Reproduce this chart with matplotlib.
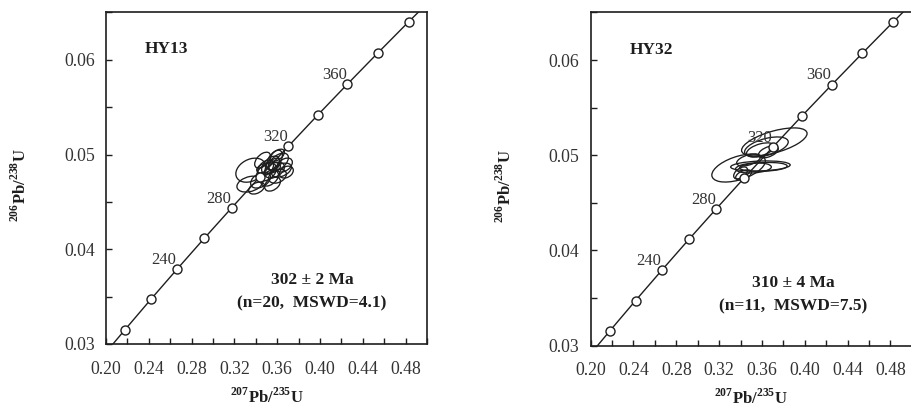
import numpy as np
import matplotlib
matplotlib.use("Agg")
import matplotlib.pyplot as plt
from matplotlib.patches import Ellipse
from matplotlib.ticker import MultipleLocator, FormatStrFormatter

plt.rcParams['font.family'] = ['Liberation Serif', 'DejaVu Serif']
plt.rcParams['mathtext.fontset'] = 'custom'
plt.rcParams['mathtext.rm'] = 'Liberation Serif'
plt.rcParams['mathtext.bf'] = 'Liberation Serif:bold'

# ---- concordia curve (207Pb/235U, 206Pb/238U) with age markers every 20 Ma ----
curve_x = [0.2058, 0.2177, 0.2419, 0.2666, 0.2918, 0.3175, 0.3437, 0.3705,
           0.3977, 0.4255, 0.4539, 0.4828, 0.4975]
curve_y = [0.02991, 0.03151, 0.03472, 0.03793, 0.04116, 0.04439, 0.04764, 0.05089,
           0.05416, 0.05743, 0.06072, 0.06402, 0.06567]
marker_ages = [200, 220, 240, 260, 280, 300, 320, 340, 360, 380, 400]
marker_x = [0.2177, 0.2419, 0.2666, 0.2918, 0.3175, 0.3437, 0.3705, 0.3977, 0.4255, 0.4539, 0.4828]
marker_y = [0.03151, 0.03472, 0.03793, 0.04116, 0.04439, 0.04764, 0.05089, 0.05416, 0.05743, 0.06072, 0.06402]
labeled_ages = [240, 280, 320, 360]

# ---- HY13 analyses: centre, half-extent x, half-extent y, correlation ----
hy13_x = [0.3352, 0.3343, 0.3444, 0.3500, 0.3537, 0.3574, 0.3611, 0.3639, 0.3528, 0.3574,
          0.3491, 0.3602, 0.3667, 0.3556, 0.3463, 0.3602, 0.3407, 0.3685, 0.3519, 0.3574]
hy13_y = [0.04835, 0.04688, 0.04730, 0.04815, 0.04889, 0.04836, 0.04920, 0.04836, 0.04751, 0.04941,
          0.04857, 0.04772, 0.04889, 0.04688, 0.04941, 0.04994, 0.04646, 0.04815, 0.04857, 0.04899]
hy13_sx = [0.0139, 0.0120, 0.0093, 0.0093, 0.0083, 0.0093, 0.0093, 0.0093, 0.0083, 0.0074,
           0.0074, 0.0083, 0.0074, 0.0074, 0.0074, 0.0065, 0.0074, 0.0065, 0.0111, 0.0056]
hy13_sy = [0.00127, 0.00084, 0.00084, 0.00095, 0.00095, 0.00084, 0.00095, 0.00074, 0.00084, 0.00105,
           0.00084, 0.00074, 0.00074, 0.00074, 0.00084, 0.00063, 0.00063, 0.00063, 0.00063, 0.00063]
hy13_rho = [0.3, 0.3, 0.4, 0.4, 0.5, 0.4, 0.5, 0.4, 0.4, 0.5,
            0.4, 0.3, 0.4, 0.4, 0.5, 0.5, 0.4, 0.3, 0.3, 0.4]

# ---- HY32 analyses ----
hy32_x = [0.3716, 0.3642, 0.3586, 0.3660, 0.3382, 0.3586, 0.3614, 0.3521, 0.3401, 0.3475, 0.3429]
hy32_y = [0.05140, 0.05087, 0.05056, 0.05035, 0.04865, 0.04887, 0.04877, 0.04866, 0.04814, 0.04950, 0.04793]
hy32_sx = [0.0306, 0.0204, 0.0130, 0.0093, 0.0250, 0.0278, 0.0222, 0.0167, 0.0065, 0.0111, 0.0074]
hy32_sy = [0.00147, 0.00105, 0.00074, 0.00063, 0.00147, 0.00053, 0.00047, 0.00053, 0.00063, 0.00063, 0.00053]
hy32_rho = [0.6, 0.5, 0.5, 0.5, 0.5, 0.2, 0.2, 0.2, 0.5, 0.5, 0.5]

panels = [
    dict(name='HY13', age='302 \u00b1 2 Ma', stats='(n=20,  MSWD=4.1)',
         ex=hy13_x, ey=hy13_y, sx=hy13_sx, sy=hy13_sy, rho=hy13_rho,
         rect=[0.1164, 0.1548, 0.3524, 0.8145], txt=(0.3926, 0.03675, 0.03432)),
    dict(name='HY32', age='310 \u00b1 4 Ma', stats='(n=11,  MSWD=7.5)',
         ex=hy32_x, ey=hy32_y, sx=hy32_sx, sy=hy32_sy, rho=hy32_rho,
         rect=[0.6484, 0.1511, 0.3524, 0.8182], txt=(0.3892, 0.03656, 0.03414)),
]

ink = '#1e1e1e'
fig = plt.figure(figsize=(9.11, 4.07), dpi=100)

for p in panels:
    ax = fig.add_axes(p['rect'])
    ax.set_xlim(0.20, 0.50)
    ax.set_ylim(0.03, 0.065)
    # concordia
    ax.plot(curve_x, curve_y, color=ink, lw=1.0, zorder=2)
    ax.plot(marker_x, marker_y, 'o', ms=6.5, mfc='white', mec=ink, mew=1.0, zorder=4)
    for a, mx, my in zip(marker_ages, marker_x, marker_y):
        if a in labeled_ages:
            ax.annotate(str(a), (mx, my), xytext=(-9.5, 6.5), textcoords='offset points',
                        ha='center', va='center', fontsize=12, color='#333333', zorder=5)
    # error ellipses
    for x, y, sx, sy, r in zip(p['ex'], p['ey'], p['sx'], p['sy'], p['rho']):
        cov = np.array([[sx * sx, r * sx * sy], [r * sx * sy, sy * sy]])
        vals, vecs = np.linalg.eigh(cov)
        ang = np.degrees(np.arctan2(vecs[1, 1], vecs[0, 1]))
        e = Ellipse((x, y), 2 * np.sqrt(vals[1]), 2 * np.sqrt(vals[0]), angle=ang,
                    fill=False, edgecolor=ink, lw=0.95, zorder=3)
        ax.add_patch(e)
    # text
    ax.text(0.2364, 0.0611, p['name'], fontsize=12.5, fontweight='bold', color=ink,
            ha='left', va='center')
    tx, ty1, ty2 = p['txt']
    ax.text(tx, ty1, p['age'], fontsize=12.5, fontweight='bold', color=ink, ha='center', va='center')
    ax.text(tx, ty2, p['stats'], fontsize=12.5, fontweight='bold', color=ink, ha='center', va='center')
    # ticks
    ax.xaxis.set_major_locator(MultipleLocator(0.04))
    ax.xaxis.set_minor_locator(MultipleLocator(0.02))
    ax.yaxis.set_major_locator(MultipleLocator(0.01))
    ax.yaxis.set_minor_locator(MultipleLocator(0.005))
    ax.xaxis.set_major_formatter(FormatStrFormatter('%.2f'))
    ax.yaxis.set_major_formatter(FormatStrFormatter('%.2f'))
    ax.tick_params(which='both', direction='in', length=4, width=1.0, color=ink,
                   top=False, right=False, labelsize=12.8, labelcolor='#333333')
    ax.tick_params(axis='x', which='both', pad=12)
    ax.tick_params(axis='y', which='both', pad=8)
    for s in ax.spines.values():
        s.set_linewidth(1.2)
        s.set_color(ink)
    ax.set_xlabel(r'$^{\mathbf{207}}$Pb/$^{\mathbf{235}}$U', fontsize=12, fontweight='bold', color=ink)
    ax.set_ylabel(r'$^{\mathbf{206}}$Pb/$^{\mathbf{238}}$U', fontsize=12, fontweight='bold', color=ink)
    ax.xaxis.set_label_coords(0.5, -0.13)
    ax.yaxis.set_label_coords(-0.238, 0.48)

fig.savefig('out.png', dpi=100)
